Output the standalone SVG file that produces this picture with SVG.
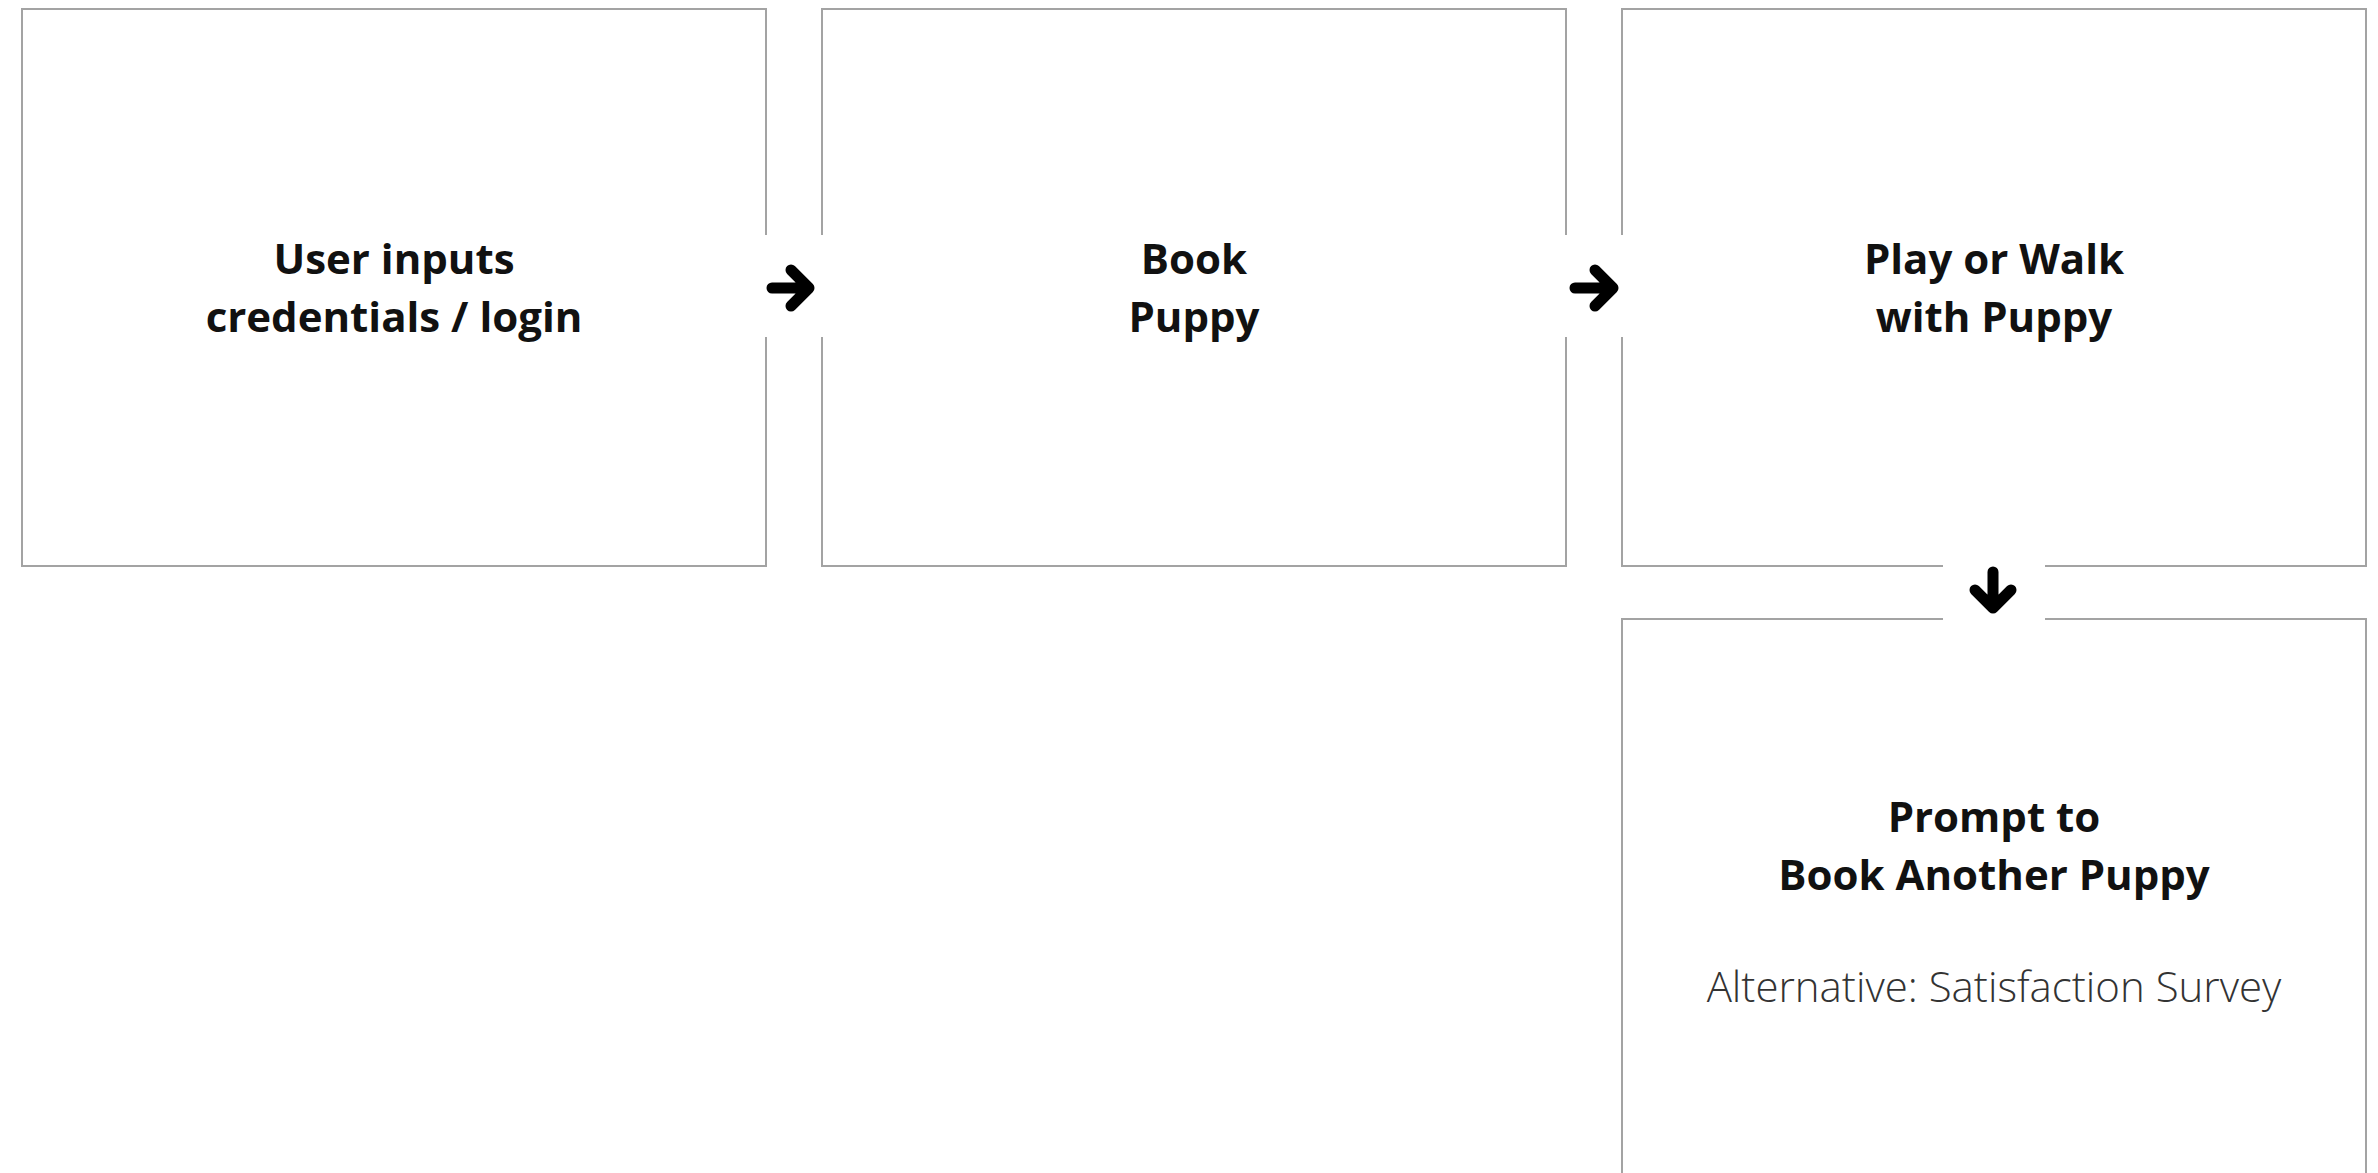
<svg xmlns="http://www.w3.org/2000/svg" width="2378" height="1173" viewBox="0 0 2378 1173">
<style>
.box{fill:#fff;stroke:#a3a3a3;stroke-width:2}
.t{font-family:"Open Sans","Liberation Sans",sans-serif;font-weight:700;font-size:42px;fill:#111;text-anchor:middle}
.s{font-family:"Open Sans","Liberation Sans",sans-serif;font-weight:300;font-size:42px;fill:#333;text-anchor:middle}
.gap{fill:#fff}
.arr{fill:none;stroke:#000;stroke-width:11;stroke-linecap:round;stroke-linejoin:round}
</style>
<rect width="2378" height="1173" fill="#fff"/>
<g id="login">
<rect class="box" x="22" y="9" width="744" height="557"/>
<text class="t" x="394" y="274">User inputs</text>
<text class="t" x="394" y="332">credentials / login</text>
</g>
<g id="book">
<rect class="box" x="822" y="9" width="744" height="557"/>
<text class="t" x="1194" y="274">Book</text>
<text class="t" x="1194" y="332">Puppy</text>
</g>
<g id="play">
<rect class="box" x="1622" y="9" width="744" height="557"/>
<text class="t" x="1994" y="274">Play or Walk</text>
<text class="t" x="1994" y="332">with Puppy</text>
</g>
<g id="prompt">
<rect class="box" x="1622" y="619" width="744" height="620"/>
<text class="t" x="1994" y="832">Prompt to</text>
<text class="t" x="1994" y="890">Book Another Puppy</text>
<text class="s" x="1994" y="1002">Alternative: Satisfaction Survey</text>
</g>
<g id="connectors">
<rect class="gap" x="756" y="235" width="76" height="102"/>
<path class="arr" d="M772 288H809M791 270L809 288L791 306"/>
<rect class="gap" x="1556" y="235" width="76" height="102"/>
<path class="arr" d="M1575 288H1613M1595 270L1613 288L1595 306"/>
<rect class="gap" x="1943" y="556" width="102" height="74"/>
<path class="arr" d="M1993 572V608M1975 590L1993 608L2011 590"/>
</g>
</svg>
